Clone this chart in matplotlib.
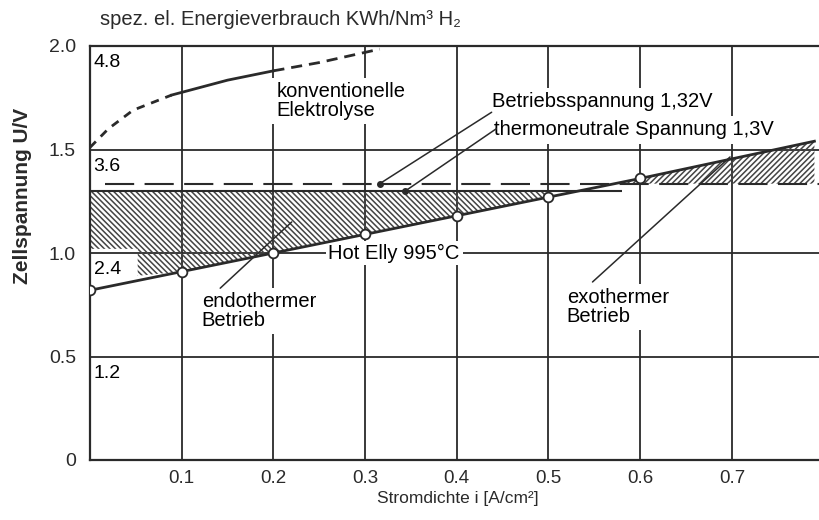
import matplotlib.pyplot as plt

# Hot Elly Kennlinie bei 995 °C (Messpunkte bis 0.6 A/cm2)
hot_i = [0.0, 0.1, 0.2, 0.3, 0.4, 0.5, 0.6, 0.79]
hot_u = [0.82, 0.91, 1.00, 1.09, 1.18, 1.27, 1.36, 1.54]
n_mess = 7

# konventionelle Elektrolyse
konv_i = [0.0, 0.02, 0.047, 0.089, 0.15, 0.2, 0.25, 0.316]
konv_u = [1.51, 1.60, 1.69, 1.763, 1.835, 1.88, 1.92, 1.985]

u_betrieb = 1.335
u_thermo = 1.30
thermo_ende = 0.58

# schraffierte Bereiche
endo_i = [0.0, 0.052, 0.052, 0.1, 0.2, 0.3, 0.4, 0.5]
endo_u = [1.02, 1.02, 0.89, 0.91, 1.00, 1.09, 1.18, 1.27]
exo_i = [0.575, 0.6, 0.7, 0.79]
exo_u = [1.338, 1.36, 1.45, 1.54]

x_ticks = [0.1, 0.2, 0.3, 0.4, 0.5, 0.6, 0.7]
y_ticks = [0, 0.5, 1.0, 1.5, 2.0]
y_ticklabels = ['0', '0.5', '1.0', '1.5', '2.0']
e_werte = [0.5, 1.0, 1.5, 2.0]
e_labels = ['1.2', '2.4', '3.6', '4.8']

plt.rcParams['font.family'] = ['Liberation Sans', 'DejaVu Sans']
plt.rcParams['hatch.linewidth'] = 1.1
ink = '#2a2a2a'

fig = plt.figure(figsize=(8.19, 5.2), dpi=100)
ax = fig.add_axes([90/819, 60/520, 729/819, 414/520])
ax.set_xlim(0, 0.795)
ax.set_ylim(0, 2.0)

for x in x_ticks:
    ax.axvline(x, color=ink, lw=1.3, zorder=1)
for y in y_ticks[1:-1]:
    ax.axhline(y, color=ink, lw=1.3, zorder=1)

# Schraffur
ax.fill_between(endo_i, endo_u, u_thermo, facecolor='none', edgecolor='#444444',
                hatch='\\' * 6, lw=0, zorder=2)
ax.fill_between(exo_i, u_betrieb, exo_u, facecolor='none', edgecolor='#444444',
                hatch='/' * 6, lw=0, zorder=2)

ax.hlines(u_thermo, 0, thermo_ende, color=ink, lw=1.5, zorder=4)
ax.axhline(u_betrieb, xmin=0.02, color=ink, lw=1.5, dashes=(14, 5), zorder=4)

ax.plot(hot_i, hot_u, color=ink, lw=2, zorder=4)
ax.plot(hot_i[:n_mess], hot_u[:n_mess], 'o', ms=7, mfc='white', mec=ink, mew=1.3, zorder=5)

ax.plot(konv_i[:4], konv_u[:4], color=ink, lw=2, dashes=(3, 2.5), zorder=4)
ax.plot(konv_i[3:6], konv_u[3:6], color=ink, lw=2, zorder=4)
ax.plot(konv_i[5:], konv_u[5:], color=ink, lw=2, dashes=(4, 2.5), zorder=4)

box = dict(facecolor='white', edgecolor='none', pad=3)
fs = 14.5
ax.text(0.203, 1.735, 'konventionelle\nElektrolyse', fontsize=fs, va='center',
        linespacing=1.0, bbox=box, zorder=3)
ax.text(0.438, 1.73, 'Betriebsspannung 1,32V', fontsize=fs, va='center', bbox=box, zorder=3)
ax.text(0.441, 1.595, 'thermoneutrale Spannung 1,3V', fontsize=fs, va='center',
        bbox=box, zorder=3)
ax.text(0.26, 1.0, 'Hot Elly 995°C', fontsize=fs, va='center',
        bbox=dict(facecolor='white', edgecolor='none', pad=2), zorder=3)
ax.text(0.122, 0.72, 'endothermer\nBetrieb', fontsize=fs, va='center',
        linespacing=1.0, bbox=box, zorder=3)
ax.text(0.52, 0.74, 'exothermer\nBetrieb', fontsize=fs, va='center',
        linespacing=1.0, bbox=box, zorder=3)

leader = dict(arrowstyle='-', color=ink, lw=1.1, shrinkA=0, shrinkB=0)
ax.annotate('', xy=(0.316, u_betrieb), xytext=(0.438, 1.68), arrowprops=leader, zorder=6)
ax.annotate('', xy=(0.344, u_thermo), xytext=(0.443, 1.60), arrowprops=leader, zorder=6)
ax.annotate('', xy=(0.22, 1.15), xytext=(0.142, 0.83), arrowprops=leader, zorder=6)
ax.annotate('', xy=(0.698, 1.464), xytext=(0.548, 0.86), arrowprops=leader, zorder=6)
ax.plot([0.316, 0.344], [u_betrieb, u_thermo], 'o', ms=4, color=ink, zorder=7)

# zweite Skala: spez. Energieverbrauch
for y, lab in zip(e_werte, e_labels):
    ax.text(0.004, y - 0.08, lab, fontsize=14, va='center', ha='left', zorder=3)

ax.set_xticks(x_ticks)
ax.set_xticklabels([f'{x:.1f}' for x in x_ticks], fontsize=13.5)
ax.set_yticks(y_ticks)
ax.set_yticklabels(y_ticklabels, fontsize=14)
ax.tick_params(length=0, pad=7, colors=ink)
ax.tick_params(axis='y', pad=10)

for s in ['left', 'bottom', 'top']:
    ax.spines[s].set_color(ink)
    ax.spines[s].set_linewidth(1.6)
ax.spines['right'].set_visible(False)

fig.text(458/819, 1 - 498/520, 'Stromdichte i [A/cm²]', fontsize=12.5,
         ha='center', va='center', color=ink)
fig.text(0.027, 1 - 196/520, 'Zellspannung U/V', rotation=90, fontsize=15, va='center',
         ha='center', color=ink, fontweight='bold')
fig.text(0.122, 0.962, 'spez. el. Energieverbrauch KWh/Nm³ H₂', fontsize=14.5,
         va='center', color=ink)

fig.savefig('out.png', dpi=100, facecolor='white')
